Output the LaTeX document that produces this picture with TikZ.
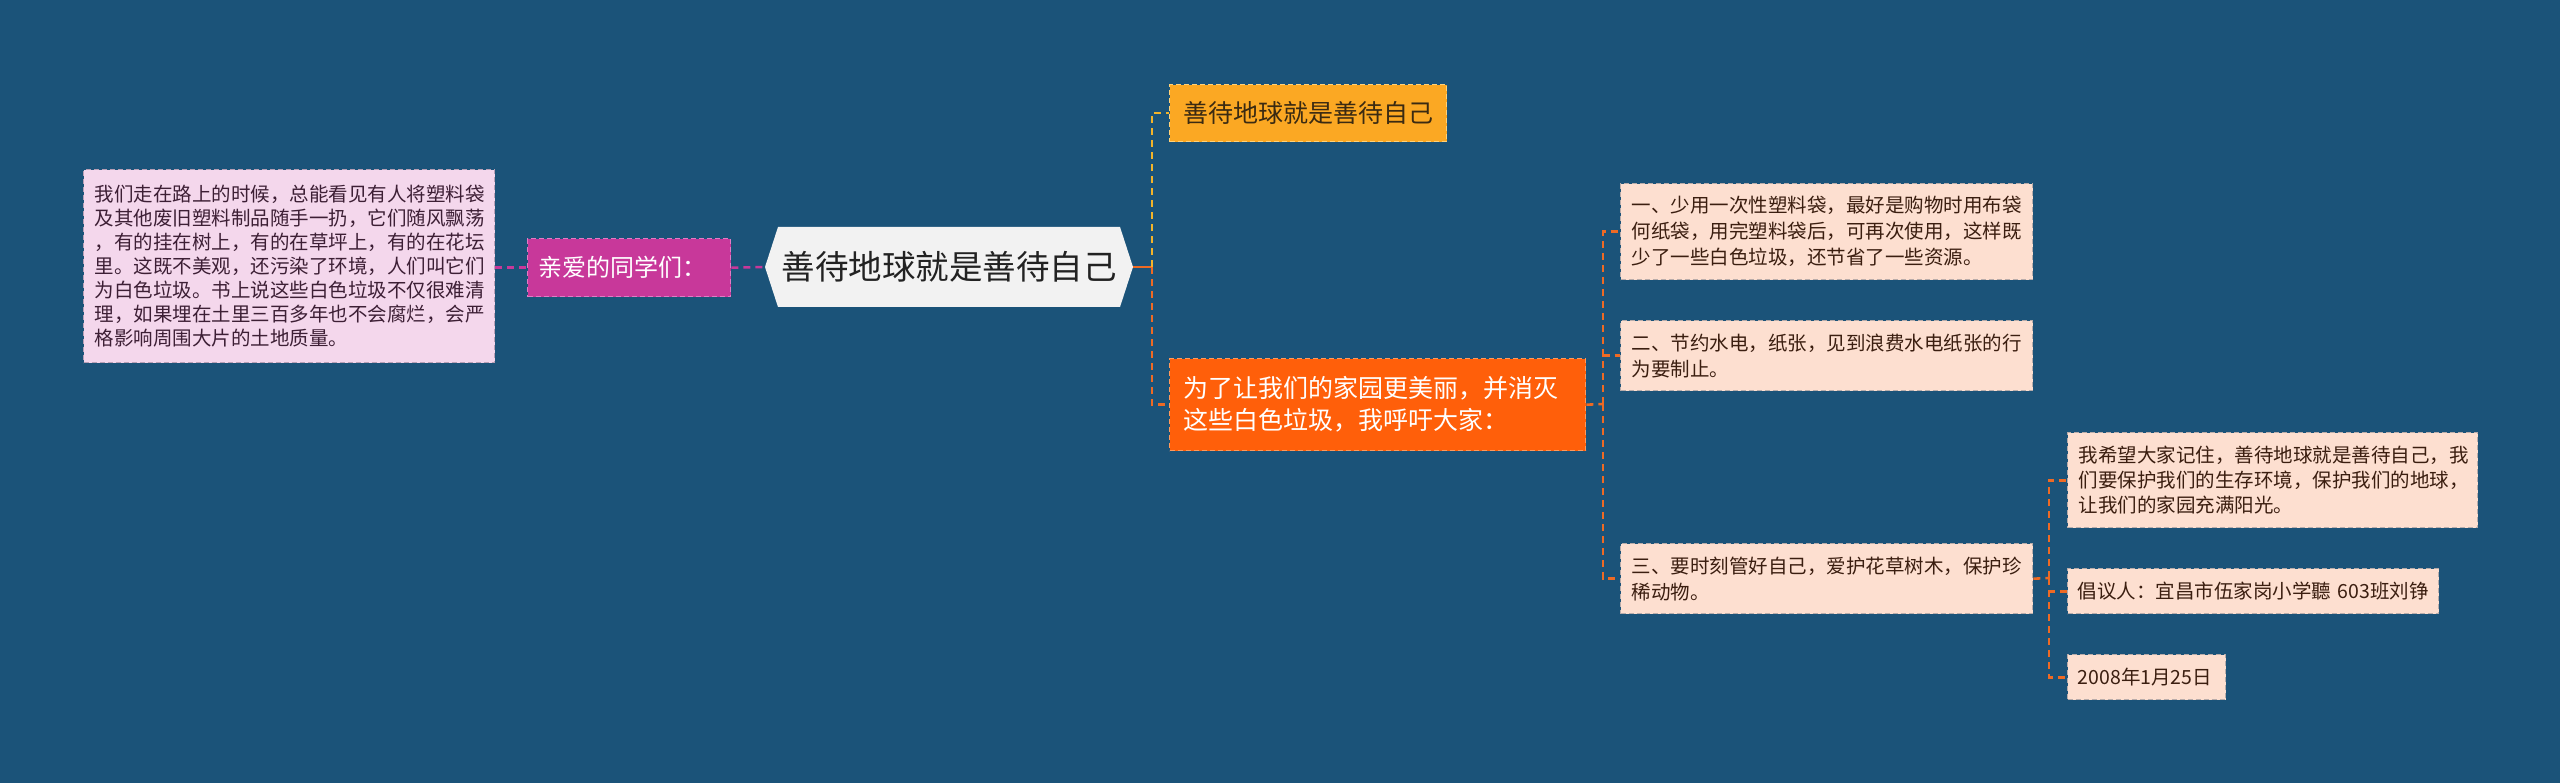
\documentclass[tikz,border=0pt]{standalone}
\usepackage{fontspec}
\setmainfont{Noto Sans CJK SC}
\definecolor{bg}{HTML}{1B5379}
\definecolor{magenta}{HTML}{C8389A}
\definecolor{magentaborder}{HTML}{E27CC4}
\definecolor{pinkfill}{HTML}{F4D7EC}
\definecolor{pinkborder}{HTML}{B9A0B6}
\definecolor{pinktext}{HTML}{3D1F35}
\definecolor{hexfill}{HTML}{F2F2F2}
\definecolor{hextext}{HTML}{222222}
\definecolor{yellowfill}{HTML}{FBA823}
\definecolor{yellowborder}{HTML}{FFD27A}
\definecolor{yellowline}{HTML}{F3B42A}
\definecolor{yellowtext}{HTML}{3A2A12}
\definecolor{redfill}{HTML}{FF5F0A}
\definecolor{redborder}{HTML}{FF9A5C}
\definecolor{orangeline}{HTML}{EE6A24}
\definecolor{peachfill}{HTML}{FDDFD0}
\definecolor{peachborder}{HTML}{B8ACAA}
\definecolor{peachtext}{HTML}{3B1E10}
\begin{document}
\begin{tikzpicture}[x=1pt,y=-1pt,
  box/.style={anchor=north west, inner xsep=11pt, inner ysep=0pt, align=left,
    line width=1.4pt, dash pattern=on 5pt off 3pt},
  leftbox/.style={box, fill=pinkfill, draw=pinkborder, text=pinktext,
    font=\fontsize{19.5pt}{24pt}\selectfont},
  dearbox/.style={box, fill=magenta, draw=magentaborder, text=white,
    font=\fontsize{24pt}{30pt}\selectfont},
  topbox/.style={box, fill=yellowfill, draw=yellowborder, text=yellowtext,
    font=\fontsize{25pt}{32pt}\selectfont, inner xsep=14pt},
  redbox/.style={box, fill=redfill, draw=redborder, text=white,
    font=\fontsize{25pt}{32pt}\selectfont, inner xsep=14pt},
  peachbox/.style={box, fill=peachfill, draw=peachborder, text=peachtext,
    font=\fontsize{19.5pt}{26pt}\selectfont},
  conn/.style={line width=2.6pt, dash pattern=on 7pt off 5pt},
  magconn/.style={conn, draw=magenta},
  yelconn/.style={conn, draw=yellowline},
  orconn/.style={conn, draw=orangeline}
]
\fill[bg] (0,0) rectangle (2560,783);
\useasboundingbox (0,0) rectangle (2560,783);

% central hexagon
\fill[hexfill] (765,267) -- (778,227) -- (1120,227) -- (1133,267) -- (1120,307) -- (778,307) -- cycle;
\node (center) [minimum width=368pt, minimum height=80pt, inner sep=0pt, text=hextext,
  font=\fontsize{33.5pt}{40pt}\selectfont] at (949,267) {善待地球就是善待自己};

% left side
\node (leftbox) [leftbox, text width=389pt, minimum height=193pt] at (83,169)
 {我们走在路上的时候，总能看见有人将塑料袋\\
  及其他废旧塑料制品随手一扔，它们随风飘荡\\
  ，有的挂在树上，有的在草坪上，有的在花坛\\
  里。这既不美观，还污染了环境，人们叫它们\\
  为白色垃圾。书上说这些白色垃圾不仅很难清\\
  理，如果埋在土里三百多年也不会腐烂，会严\\
  格影响周围大片的土地质量。};
\node (dear) [dearbox, text width=181pt, minimum height=58pt] at (527,238) {亲爱的同学们：};

% right first level
\node (top) [topbox, text width=249pt, minimum height=57pt] at (1169,84) {善待地球就是善待自己};
\node (red) [redbox, text width=388pt, minimum height=92pt] at (1169,358)
 {为了让我们的家园更美丽，并消灭\\这些白色垃圾，我呼吁大家：};

% second level
\node (r1) [peachbox, text width=390pt, minimum height=96pt] at (1620,183)
 {一、少用一次性塑料袋，最好是购物时用布袋\\
  何纸袋，用完塑料袋后，可再次使用，这样既\\
  少了一些白色垃圾，还节省了一些资源。};
\node (r2) [peachbox, text width=390pt, minimum height=70pt] at (1620,320)
 {二、节约水电，纸张，见到浪费水电纸张的行\\为要制止。};
\node (r3) [peachbox, text width=390pt, minimum height=70pt] at (1620,543)
 {三、要时刻管好自己，爱护花草树木，保护珍\\稀动物。};

% third level
\node (a) [peachbox, text width=388pt, minimum height=95pt, font=\fontsize{19.5pt}{25pt}\selectfont] at (2067,432)
 {我希望大家记住，善待地球就是善待自己，我\\
  们要保护我们的生存环境，保护我们的地球，\\
  让我们的家园充满阳光。};
\node (b) [peachbox, text width=351pt, minimum height=45pt, inner xsep=10pt] at (2067,568)
 {倡议人：宜昌市伍家岗小学聽~603班刘铮};
\node (c) [peachbox, text width=138pt, minimum height=45pt, inner xsep=10pt] at (2067,654)
 {2008年1月25日};

% junction points
\coordinate (j1) at (1152,267);
\coordinate (j2) at (1603,404);
\coordinate (j3) at (2049,578);

% connectors
\draw[magconn] (leftbox.east |- dear.west) -- (dear.west);
\draw[magconn] (dear.east) -- (center.west);
\draw[orangeline, line width=2.8pt] (center.east) -- (j1);
\draw[yelconn] (j1) |- (top.west);
\draw[orconn] (j1) |- (red.west);
\draw[orconn] (red.east) -- (j2);
\draw[orconn] (j2) |- (r1.west);
\draw[orconn] (j2) |- (r2.west);
\draw[orconn] (j2) |- (r3.west);
\draw[orconn] (r3.east) -- (j3);
\draw[orconn] (j3) |- (a.west);
\draw[orconn] (j3) |- (b.west);
\draw[orconn] (j3) |- (c.west);
\end{tikzpicture}
\end{document}
